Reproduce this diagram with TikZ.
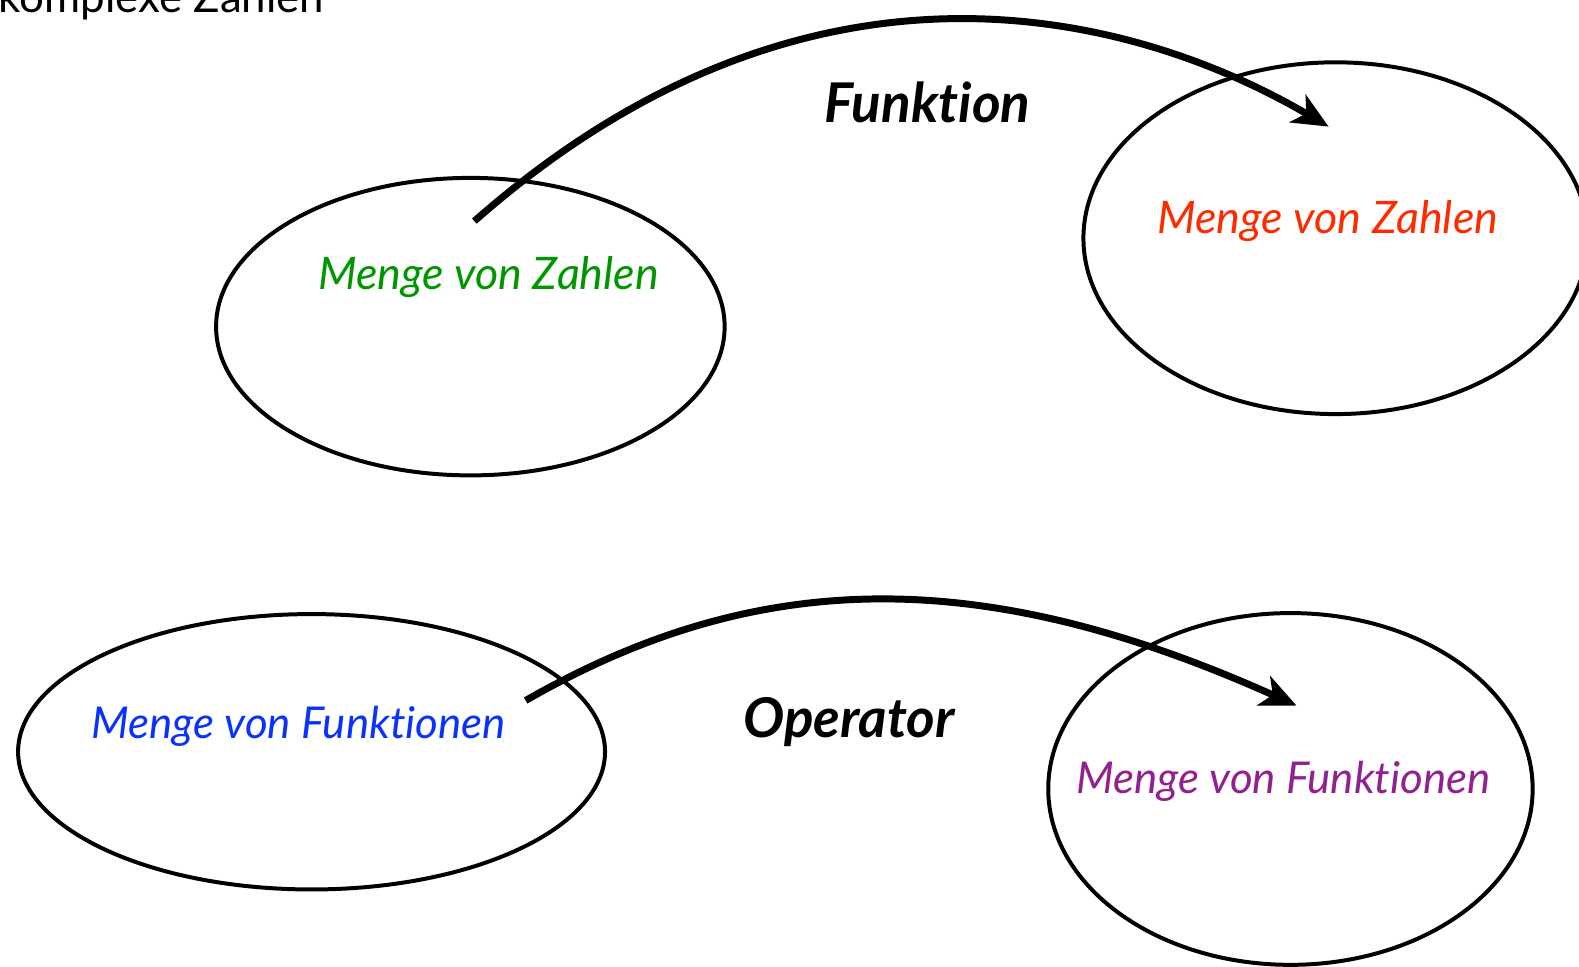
\documentclass[tikz,border=0pt]{standalone}
\usepackage{fontspec}
\setmainfont{Lato}[Ligatures={NoCommon}]
\usetikzlibrary{arrows.meta}
\definecolor{mgreen}{RGB}{0,150,0}
\definecolor{mred}{RGB}{255,42,0}
\definecolor{mblue}{RGB}{10,50,255}
\definecolor{mpurple}{RGB}{146,32,143}
\begin{document}
\begin{tikzpicture}[x=1.005bp,y=-1.005bp,
    menge/.style={black, line width=4pt},
    pfeil/.style={black, line width=7pt, -{Stealth[length=36pt,width=32pt,inset=10pt]}},
    label/.style={font=\fontsize{44}{50}\selectfont\itshape, anchor=base},
    titel/.style={font=\fontsize{55}{60}\selectfont\bfseries\itshape, anchor=base}]
            \useasboundingbox (0,0) rectangle (1571.1,961.2);
            \draw[menge] (468,325) ellipse (253 and 148);
            \draw[menge] (1329,237) ellipse (251 and 175);
            \draw[menge] (310,748) ellipse (292 and 137);
            \draw[menge] (1284,785) ellipse (241 and 175);

            \coordinate (zahlen-a) at (472,220);
            \coordinate (zahlen-b) at (1322,126);
            \coordinate (funk-a) at (523,697);
            \coordinate (funk-b) at (1290,702);
            \draw[pfeil] (zahlen-a) .. controls (810,-78) and (1134,16) .. (zahlen-b);
            \draw[pfeil] (funk-a) .. controls (753,565) and (976,561) .. (funk-b);

            \node[font=\fontsize{44}{50}\selectfont, anchor=base east] (komplex) at (326,12) {komplexe Zahlen};
            \node[titel] (funktion) at (923,122) {Funktion};
            \node[titel] (operator) at (845,734) {Operator};
            \node[label, text=mgreen, font=\fontsize{45}{50}\selectfont\itshape] (urbild) at (486,288) {Menge von Zahlen};
            \node[label, text=mred, font=\fontsize{45}{50}\selectfont\itshape] (bild) at (1321,232) {Menge von Zahlen};
            \node[label, text=mblue] (funkurbild) at (297,735) {Menge von Funktionen};
            \node[label, text=mpurple] (funkbild) at (1277,790) {Menge von Funktionen};
        \end{tikzpicture}
\end{document}
